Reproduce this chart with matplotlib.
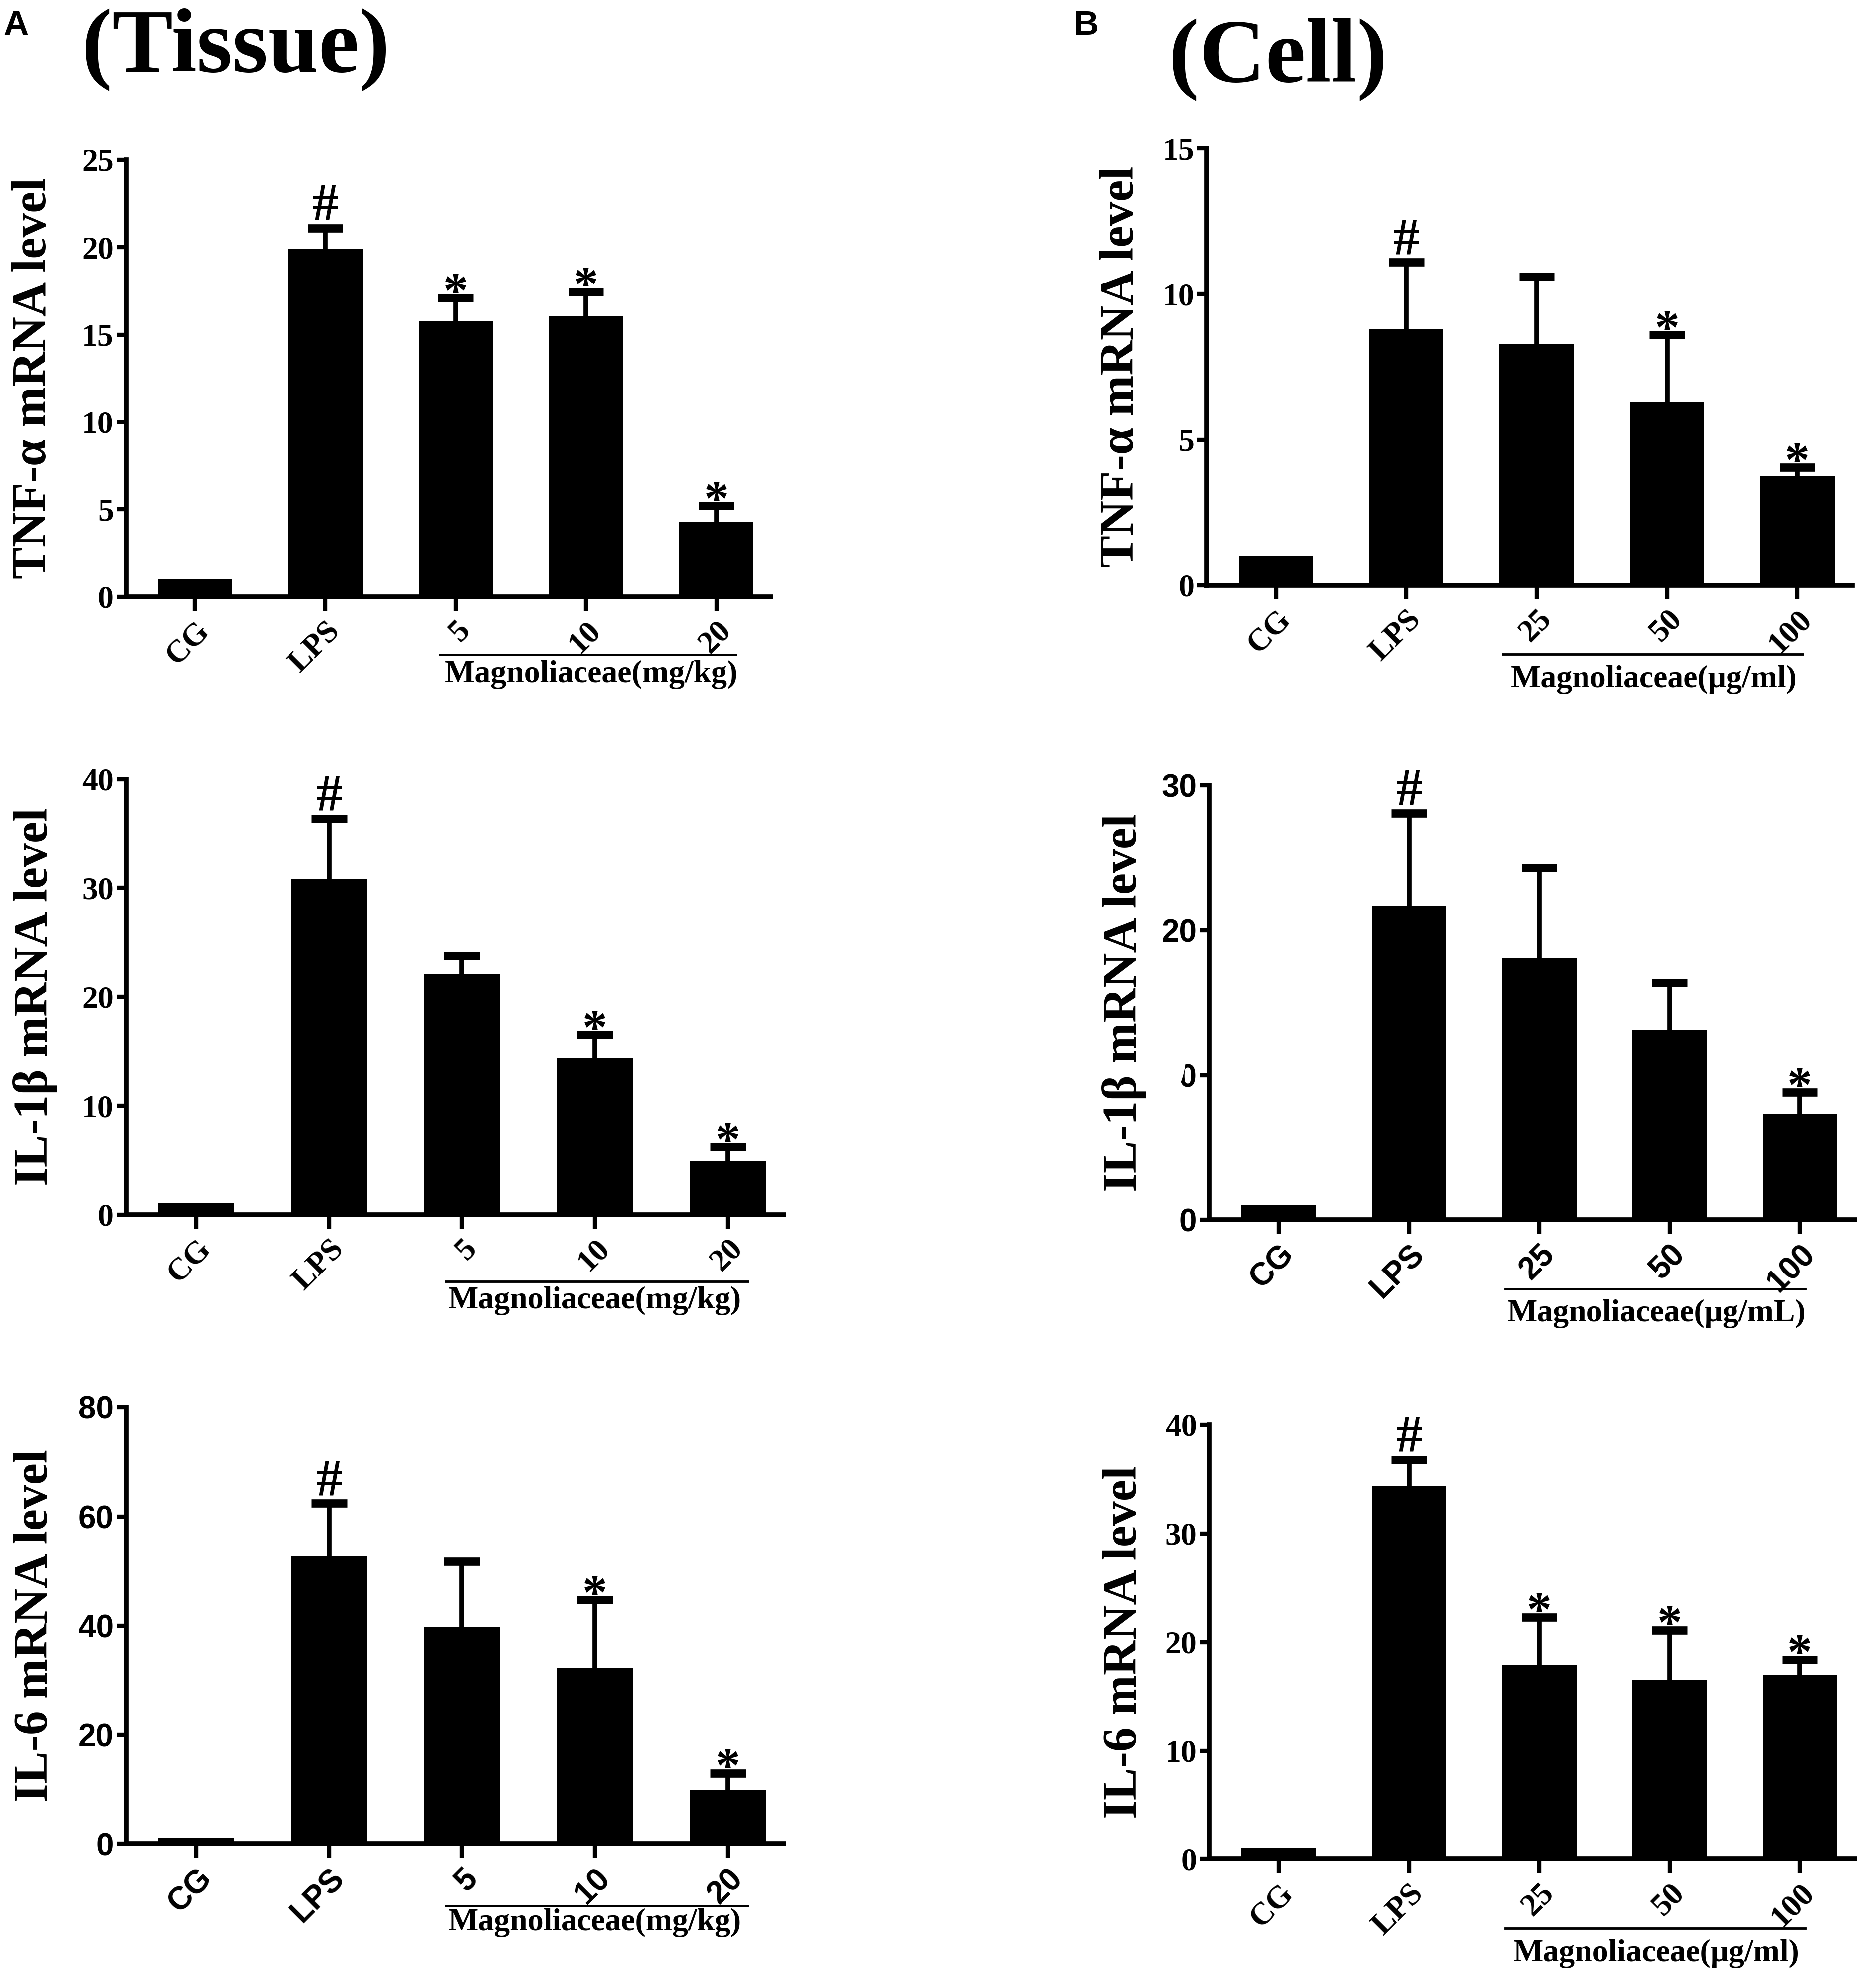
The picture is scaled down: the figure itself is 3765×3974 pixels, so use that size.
import matplotlib
matplotlib.use("Agg")
import matplotlib.pyplot as plt
from matplotlib.patches import Ellipse
import numpy as np

SERIF = "Liberation Serif"
SANS = "Liberation Sans"

tissue_groups = ["CG", "LPS", "5", "10", "20"]
cell_groups = ["CG", "LPS", "25", "50", "100"]

# tissue (mg/kg)
tnf_tissue = [1.0, 19.9, 15.75, 16.05, 4.3]
tnf_tissue_err = [0.0, 1.2, 1.35, 1.4, 0.9]
tnf_tissue_sig = ["", "#", "*", "*", "*"]

il1b_tissue = [1.05, 30.8, 22.1, 14.4, 4.95]
il1b_tissue_err = [0.0, 5.6, 1.7, 2.1, 1.25]
il1b_tissue_sig = ["", "#", "", "*", "*"]

il6_tissue = [1.2, 52.7, 39.7, 32.2, 10.0]
il6_tissue_err = [0.0, 9.7, 12.1, 12.5, 3.0]
il6_tissue_sig = ["", "#", "", "*", "*"]

# cell (ug/ml)
tnf_cell = [1.0, 8.8, 8.3, 6.3, 3.75]
tnf_cell_err = [0.0, 2.3, 2.3, 2.3, 0.3]
tnf_cell_sig = ["", "#", "", "*", "*"]

il1b_cell = [1.0, 21.7, 18.1, 13.1, 7.3]
il1b_cell_err = [0.0, 6.4, 6.2, 3.3, 1.5]
il1b_cell_sig = ["", "#", "", "", "*"]

il6_cell = [1.0, 34.4, 17.9, 16.5, 17.0]
il6_cell_err = [0.0, 2.4, 4.4, 4.6, 1.4]
il6_cell_sig = ["", "#", "*", "*", "*"]

W, H = 1489.0, 1573.0  # reference layout units


def box(left, right, top, bottom):
    return [left / W, 1 - bottom / H, (right - left) / W, (bottom - top) / H]


def panel(fig, rect, groups, vals, errs, sigs, ymax, ystep, ylabel, tickfont,
          unit_text, line_y, text_y, line_x, text_x, label_x):
    ax = fig.add_axes(rect)
    x = np.arange(len(groups))
    vals = np.array(vals)
    errs = np.array(errs)
    ax.bar(x, vals, width=0.57, color="black", zorder=2)
    # upper error bars only
    m = errs > 0
    ax.vlines(x[m], vals[m], vals[m] + errs[m], color="black", lw=7, zorder=3)
    ax.hlines(vals[m] + errs[m], x[m] - 0.135, x[m] + 0.135, color="black", lw=12, zorder=3)
    for xi, v, e, s in zip(x, vals, errs, sigs):
        if s == "#":
            ax.annotate(s, (xi, v + e), xytext=(0, 12), textcoords="offset points",
                        ha="center", va="baseline", fontsize=76, fontweight="bold",
                        family=SERIF)
        elif s == "*":
            ax.annotate(s, (xi, v + e), xytext=(0, -12), textcoords="offset points",
                        ha="center", va="baseline", fontsize=72, fontweight="bold",
                        family=SERIF)
    ax.set_xlim(-0.53, 4.42)
    ax.set_ylim(0, ymax)
    ax.set_yticks(np.arange(0, ymax + 0.1, ystep))
    ax.set_xticks(x)
    ax.set_xticklabels(groups, rotation=45, ha="right", va="top", rotation_mode="anchor")
    for lab in ax.get_xticklabels() + ax.get_yticklabels():
        lab.set_family(tickfont)
        lab.set_fontweight("bold")
        lab.set_fontsize(46)
    ax.spines["top"].set_visible(False)
    ax.spines["right"].set_visible(False)
    ax.spines["left"].set_linewidth(7)
    ax.spines["bottom"].set_linewidth(7)
    ax.tick_params(axis="y", direction="out", length=14, width=6, pad=4)
    ax.tick_params(axis="x", direction="out", length=20, width=6, pad=8)
    ax.set_ylabel(ylabel, fontsize=70, fontweight="bold", family=SERIF)
    ax.yaxis.set_label_coords(label_x, 0.5)
    trans = ax.get_xaxis_transform()
    ax.plot(line_x, [line_y, line_y], color="black", lw=3.5, transform=trans, clip_on=False)
    ax.text(text_x, text_y, unit_text, transform=trans, ha="center", va="center",
            fontsize=46, fontweight="bold", family=SERIF)
    return ax


fig = plt.figure(figsize=(37.65, 39.74), dpi=100)
fig.patch.set_facecolor("white")

tx_line = [1.88, 4.15]
cx_line = [1.74, 4.04]

panel(fig, box(100, 612, 127, 474), tissue_groups, tnf_tissue, tnf_tissue_err, tnf_tissue_sig,
      25, 5, "TNF-α mRNA level", SERIF, "Magnoliaceae(mg/kg)", -0.133, -0.178, tx_line, 3.04,
      -0.108)
panel(fig, box(100, 622, 619, 965), tissue_groups, il1b_tissue, il1b_tissue_err, il1b_tissue_sig,
      40, 10, "IL-1β mRNA level", SERIF, "Magnoliaceae(mg/kg)", -0.153, -0.198, tx_line, 3.0,
      -0.104)
panel(fig, box(100, 622, 1118, 1465), tissue_groups, il6_tissue, il6_tissue_err, il6_tissue_sig,
      80, 20, "IL-6 mRNA level", SANS, "Magnoliaceae(mg/kg)", -0.141, -0.18, tx_line, 3.0,
      -0.104)

panel(fig, box(958, 1470, 118, 465), cell_groups, tnf_cell, tnf_cell_err, tnf_cell_sig,
      15, 5, "TNF-α mRNA level", SERIF, "Magnoliaceae(μg/ml)", -0.158, -0.216, cx_line, 2.9,
      -0.098)
panel(fig, box(960, 1472, 624, 969), cell_groups, il1b_cell, il1b_cell_err, il1b_cell_sig,
      30, 10, "IL-1β mRNA level", SANS, "Magnoliaceae(μg/mL)", -0.159, -0.217, cx_line, 2.9,
      -0.098)
panel(fig, box(960, 1472, 1132, 1477), cell_groups, il6_cell, il6_cell_err, il6_cell_sig,
      40, 10, "IL-6 mRNA level", SERIF, "Magnoliaceae(μg/ml)", -0.159, -0.217, cx_line, 2.9,
      -0.098)

# white blotch in the cell IL-1b panel of the source image
fig.patches.append(Ellipse((928 / W, 1 - 832 / H), 28 / W, 75 / H, transform=fig.transFigure,
                           facecolor="white", edgecolor="none", zorder=10))

fig.text(65 / W, 0.964, "(Tissue)", fontsize=132, fontweight="bold", family=SERIF,
         ha="left", va="baseline")
fig.text(928 / W, 0.959, "(Cell)", fontsize=132, fontweight="bold", family=SERIF,
         ha="left", va="baseline")
fig.text(0.002, 0.995, "A", fontsize=50, fontweight="bold", family=SANS, ha="left", va="top")
fig.text(852 / W, 0.995, "B", fontsize=50, fontweight="bold", family=SANS, ha="left", va="top")

fig.savefig("out.png", dpi=100, facecolor="white")
